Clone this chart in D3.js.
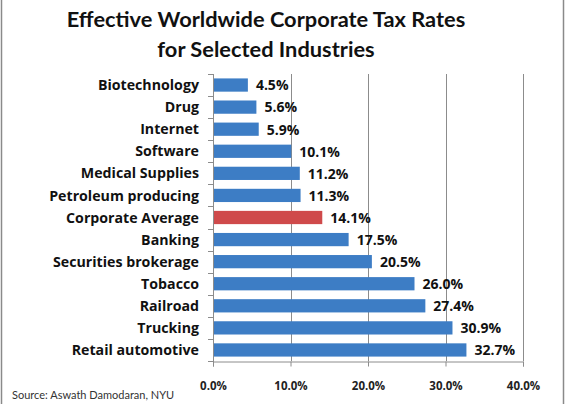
<!DOCTYPE html>
<html><head><meta charset="utf-8">
<script src="https://cdn.jsdelivr.net/npm/d3@7"></script>
<style>
html,body{margin:0;padding:0;background:#fff;}
svg{display:block;}
</style></head><body>
<svg id="c" width="566" height="404"></svg>
<script>
const categories = ["Biotechnology","Drug","Internet","Software","Medical Supplies","Petroleum producing","Corporate Average","Banking","Securities brokerage","Tobacco","Railroad","Trucking","Retail automotive"];
const values = [4.5,5.6,5.9,10.1,11.2,11.3,14.1,17.5,20.5,26.0,27.4,30.9,32.7];
const highlight = ["Corporate Average"];
const xTicks = [0,10,20,30,40];
const titleLines = ["Effective Worldwide Corporate Tax Rates","for Selected Industries"];
const source = "Source: Aswath Damodaran, NYU";

const OS = "'Open Sans',Lato,sans-serif";
const svg = d3.select("#c");
const m = {left:213, right:523, top:74, bottom:361};
const x = d3.scaleLinear().domain([0,40]).range([m.left,m.right]);
const y = d3.scaleBand().domain(categories).range([m.top,m.bottom]).paddingInner(0.4).paddingOuter(0.2);

// border lines
svg.append("line").attr("x1",1.5).attr("x2",1.5).attr("y1",0).attr("y2",404).attr("stroke","#8a8a8a").attr("stroke-width",1.5);
svg.append("line").attr("x1",563.5).attr("x2",563.5).attr("y1",0).attr("y2",404).attr("stroke","#8a8a8a").attr("stroke-width",1.5);

// title
svg.append("g").selectAll("text").data(titleLines).join("text")
  .attr("x",266).attr("y",(d,i)=>27+i*30)
  .attr("text-anchor","middle").attr("font-weight","bold").attr("font-size",21.8).attr("fill","#111")
  .attr("font-family","Lato,sans-serif")
  .text(d=>d);

// gridlines
svg.append("g").selectAll("line").data(xTicks.slice(1)).join("line")
  .attr("x1",d=>Math.round(x(d))+0.5).attr("x2",d=>Math.round(x(d))+0.5)
  .attr("y1",m.top).attr("y2",m.bottom).attr("stroke","#8c8c8c").attr("stroke-width",1);

// x axis
const xa = svg.append("g").attr("transform",`translate(0,${m.bottom+0.5})`)
  .call(d3.axisBottom(x).tickValues(xTicks).tickSize(5).tickPadding(15).tickFormat(d=>d.toFixed(1)+"%"));
xa.attr("font-family",OS);
xa.select(".domain").attr("stroke","#8c8c8c");
xa.selectAll(".tick line").attr("stroke","#8c8c8c");
xa.selectAll(".tick text").attr("font-size",11.5).attr("font-weight","bold").attr("fill","#222");

// y axis: line + boundary ticks
const bounds = d3.range(categories.length+1).map(i=>m.top + i*(m.bottom-m.top)/categories.length);
svg.append("line").attr("x1",m.left+0.5).attr("x2",m.left+0.5).attr("y1",m.top).attr("y2",m.bottom+5).attr("stroke","#8c8c8c");
svg.append("g").selectAll("line").data(bounds).join("line")
  .attr("x1",m.left-5).attr("x2",m.left).attr("y1",d=>Math.round(d)+0.5).attr("y2",d=>Math.round(d)+0.5).attr("stroke","#8c8c8c");

// category labels
svg.append("g").attr("font-family",OS).selectAll("text").data(categories).join("text")
  .attr("x",199).attr("y",d=>y(d)+y.bandwidth()/2).attr("dy","0.36em")
  .attr("text-anchor","end").attr("font-weight","bold").attr("font-size",14.2).attr("fill","#111")
  .text(d=>d);

// bars
svg.append("g").selectAll("rect").data(categories).join("rect")
  .attr("x",x(0)+1).attr("y",d=>y(d)).attr("height",y.bandwidth())
  .attr("width",(d,i)=>x(values[i])-x(0)-1)
  .attr("fill",d=>highlight.includes(d)?"#cf4a4b":"#3d7dc5");

// value labels
svg.append("g").attr("font-family",OS).selectAll("text").data(categories).join("text")
  .attr("x",(d,i)=>x(values[i])+8).attr("y",d=>y(d)+y.bandwidth()/2).attr("dy","0.38em")
  .attr("font-weight","bold").attr("font-size",14).attr("fill","#111")
  .text((d,i)=>values[i].toFixed(1)+"%");

// source
svg.append("text").attr("font-family","Lato,sans-serif").attr("x",12).attr("y",399).attr("font-size",11).attr("fill","#333").text(source);
</script>
</body></html>
